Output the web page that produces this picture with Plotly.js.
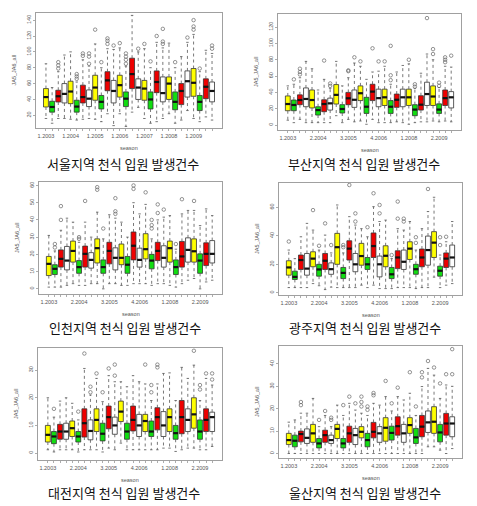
<!DOCTYPE html>
<html><head><meta charset="utf-8">
<script src="https://cdn.plot.ly/plotly-3.0.1.min.js"></script>
<style>html,body{margin:0;padding:0;background:#fff}#chart{width:477px;height:506px}</style>
</head><body><div id="chart"></div>
<script>
// ---------- data ----------
const seasonColors = ['#FFFF00','#11DD11','#EE0000','#FFFFFF'];
const seoulXLabels = ['1.2003','1.2004','1.2005','1.2006','1.2007','1.2008','1.2009'];
const otherXLabels = ['1.2003','2.2004','3.2005','4.2006','1.2008','2.2009'];
const yTitle = 'JA5_JA6_all';
const xTitle = 'season';

// Seoul
const seoulCaption = '서울지역 천식 입원 발생건수';
const seoulQ3 = [53.7,37.7,51.6,60,63,39,58,52,70.5,45,75,64,70.5,49.5,92,66,64,49.5,76,68.4,68.4,49.5,60,76,79,45,66,62];
const seoulQ1 = [30.5,24,36.8,35.6,34.7,24,35.6,31,39,28,51,35.6,43,31,53.7,40,39,28,48.6,37,40,27,33.5,43,44,26,41,37];
const seoulMed = [43,30.5,44,47,50,31,43,41,55,37,64,50.7,58,41,72,55,53.7,40,62,48,60,37,50.7,63,61,37,56,50.7];
const seoulHi = [85,55,75,96,100,62,90,82,110,80,104,103,105,82,146,100,104,80,112,105,111,80,94,112,122,75,102,98];
const seoulLo = [16,10,16,16,15,14,15,16,15,12,22,7,22,6,24,30,16,10,12,16,22,10,14,26,16,12,18,14];
const seoulOutBox = [3,3,3,6,6,6,7,7,8,8,8,9,10,11,11,11,12,13,14,14,14,14,16,17,18,19,20,20,20,22,24,25,25,25,26,28,28];
const seoulOutVal = [79,83,87,66,69,72,95,98,85,94,98,128,87,110,114,117,108,111,85,90,94,98,104,110,88,120,110,113,129,87,118,128,132,140,79,104,108];
const seoulYTicks = [20,40,60,80,100,120,140];

// Busan
const busanCaption = '부산지역 천식 입원 발생건수';
const busanQ3 = [35.7,30.7,37,45.5,43,22.5,31,33,49.6,25,40,43,48,34,50,44,44,30,38,44,44,25,36,52.5,48,26,43,41];
const busanQ1 = [17.6,17.6,25,22.5,21,12.3,16.4,18.4,25.8,14.8,25,21.7,30,14.3,30,22.5,24,14.3,21.7,22.5,24,11.5,18.4,24,24,14.3,24,21];
const busanMed = [25.8,24.6,30.7,32,30.7,18.4,25.8,26.6,37,19.7,32.8,31,39,22.5,41,33,34,22.5,31,34,34,19,25,38,35,19,33,34];
const busanHi = [48,50,58,78,69,43,56,45,78,48,58,76,72,56,65,66,72,50,65,73,75,45,63.5,87,80,46,72,71];
const busanLo = [6,3,7,3,3,3,3,3,11.5,3,7,4,5,1,7,3,3,3,4,3,1,3,4,4,5,4,5,4];
const busanOutBox = [2,3,3,3,7,8,8,11,11,12,13,15,16,17,18,18,18,21,22,22,24,25,25,26,26,27,27,27,28];
const busanOutVal = [56,62,65,69,79,48,51,66,67,83,78,94,78,78,55,61,97,80,47,50,131,87,93,48,52,77,80,83,85];
const busanYTicks = [0,20,40,60,80,100,120];

// Incheon
const incheonCaption = '인천지역 천식 입원 발생건수';
const incheonQ3 = [18.8,14,22.6,24.6,27.7,16.4,24.8,21,29,16.8,27,23.8,26,18.8,33,23.6,32,20,27,25,27.7,16.8,27.5,29.6,29,20.3,26.7,28];
const incheonQ1 = [7.7,8.3,12.6,11,15.5,9,12.6,12,15,9,14.5,11,14,9,16.8,12.6,17.4,11.6,16.4,12.6,15.5,8.3,12.6,15.5,15.5,9,13.5,15];
const incheonMed = [14.5,11.6,17.4,16.4,22,12.6,20.3,16.8,23.6,12.6,22,18,18,14,25,16.8,23,16.4,22,18,23.6,12.6,18.8,22.6,21.8,16.4,20.3,20.3];
const incheonHi = [31,22,34,41,38.7,27,38.7,30,44.5,29,43,41,38.7,30,50,43.5,49,29,40,41.6,42.5,23,43.5,45.5,45.5,36.7,46.4,42.5];
const incheonLo = [1,1,1,2,3,2,2,3,3,0,3,3,2,2,3,3,3,2,3,3,2,1,3,5,6,0,4,5];
const incheonOutBox = [2,2,3,3,6,6,7,9,9,10,12,12,12,15,15,17,18,18,18,19,19,20,22,23,25];
const incheonOutVal = [24,26,40,48,29,30,51,57.5,59,35,43.5,45,52.6,58,60,56,35,37,40,44,49,46,26,52,51];
const incheonYTicks = [0,10,20,30,40,50,60];

// Gwangju
const gwangjuCaption = '광주지역 천식 입원 발생건수';
const gwangjuQ3 = [22.5,15.2,26.5,27.6,28.8,20,27.6,21,41.7,17.8,36.5,27.6,34.7,24.8,42,25.8,33,17.8,29.5,30,35.8,20,30.7,39.8,42.9,18.7,28,33.5];
const gwangjuQ1 = [12.4,9.4,16.4,12.4,18.3,11.7,16.4,13,20,10,23,14.8,19.4,16.4,24.8,11.2,18.3,10,17,16.4,23.4,13,18.3,19.4,24.8,11.7,17.8,18.3];
const gwangjuMed = [17.8,11.2,23,17,24,16.4,22.5,16.6,32,14,31,20,25.8,20,32.8,20,26,13,24.8,21.8,31,16.6,24.8,30,35.2,15.5,24,24.8];
const gwangjuHi = [30,24,39.3,48.7,44,30,40.5,28,61.6,28,53.4,47.5,45,39.3,60.4,50,51,24,45,44,50,30,45,57,67,26.5,35.8,50];
const gwangjuLo = [3.7,3.7,3.7,3.7,6.5,5,2.3,4,3.7,3.7,3.7,3.7,5.4,3.7,5.4,3,3,3,3.7,3.7,3.7,3,3.7,3.7,11,3.7,5.4,6.5];
const gwangjuOutBox = [1,5,6,7,8,10,10,11,12,12,14,15,16,16,18,19,19,20,20,22,22,24,26,26,27];
const gwangjuOutVal = [36,58,33,48.7,33.5,32,33.5,75.6,50,55.7,46,69.8,55.7,61.6,26.5,52,64,50,52,35,39,72.8,33.5,39,39.3];
const gwangjuYTicks = [0,20,40,60];

// Daejeon
const daejeonCaption = '대전지역 천식 입원 발생건수';
const daejeonQ3 = [10,7.8,10.4,10.8,11.6,7.8,16,12,16,10.8,17,13,18.8,10.8,17,14,14,11.6,16.4,15,16,10,19,16,20,12,16,14.8];
const daejeonQ1 = [4,3.4,5,5,6,4,5.8,4.8,7.8,4.4,8.8,6.8,11.4,5,8,6,7.8,6,8.4,6,7.8,5,7,7.8,9,5,7.8,7.8];
const daejeonMed = [6.6,6,7.8,7.8,9,6,10.8,8,12,7,13,10,15,7.8,12,10,11.6,7.8,13,10,13,7.2,13,12,14,7.8,12,13];
const daejeonHi = [20,13,18.8,20,18,12,30.6,21,27,18.6,28,25.8,25.8,24,28,25.8,25,19,25,28.8,29,19,31,27,31.8,19,27,24.6];
const daejeonLo = [1.2,0.4,1.2,1.2,1.2,0.4,1.2,1.2,1.2,0.4,1.8,1.2,3.6,1.2,1.2,1.2,1.2,1.2,1.2,1.8,1.8,0.6,1.2,1.8,1.8,1.2,1.2,2.4];
const daejeonOutBox = [2,6,7,8,8,9,10,11,12,12,17,18,18,19,19,25,26,26,27,28,28];
const daejeonOutVal = [16,15,36,22,24,28.8,22,30.6,28,32,32,22,24.6,31,32,37,23,24.6,28.8,26.6,28.8];
const daejeonYTicks = [0,10,20,30];

// Ulsan
const ulsanCaption = '울산지역 천식 입원 발생건수';
const ulsanQ3 = [9,8.2,10,11,13,6.7,10.4,8.2,13,6.7,12.2,11.2,12,9,13.9,12,16,12.2,16.4,13,16,11.2,17,19,20.9,13,17.9,16.4];
const ulsanQ1 = [4,3,5.2,4.5,5,2.5,5,4.5,6.7,2.5,5,4,7,3,7,5,5.5,6,8.2,5,9,4.5,7.5,9.4,9,5.2,8.2,7.5];
const ulsanMed = [6,5.7,8.7,7,9,4.5,8.2,6,11,4.5,9,8.2,9.7,6,9.7,9,11.5,9.2,12.2,9,12.7,7.2,12,13.9,14.2,9.4,13.4,13.4];
const ulsanHi = [14,15,18,18,24.6,12,17,12,21.6,17,22.4,19.4,18,17,22.4,21.6,25.4,19,25.4,23.9,26.9,17,29.9,38,35,24.6,30.6,30];
const ulsanLo = [0,0,0,0,0,0,0,0,0,0,0,0,0,0,0,0,0,0,0,0,0,0,0,3,3,1.5,0,2.2];
const ulsanOutBox = [3,3,6,7,8,8,10,11,12,13,13,13,14,14,15,15,17,18,19,21,22,23,23,24,25,26,27,28,28];
const ulsanOutVal = [21.6,23,15,19,15,16,21.6,25.4,22.4,21,23,25.4,19.5,21,26,27,32.4,22.4,29.4,36.3,21,34,36.3,41.3,38.4,31.3,35.4,35.4,46.6];
const ulsanYTicks = [0,10,20,30,40];

// ---------- layout config (positions in page pixels) ----------
const W = 477, H = 506;
const panels = [
  {cap:seoulCaption, q1:seoulQ1, med:seoulMed, q3:seoulQ3, lo:seoulLo, hi:seoulHi, ob:seoulOutBox, ov:seoulOutVal, yt:seoulYTicks, xl:seoulXLabels, step:4, yr:[4,149], px:[36,222], py:[13,128], capY:163},
  {cap:busanCaption, q1:busanQ1, med:busanMed, q3:busanQ3, lo:busanLo, hi:busanHi, ob:busanOutBox, ov:busanOutVal, yt:busanYTicks, xl:otherXLabels, step:5, yr:[-6,136], px:[278,461], py:[14,130], capY:163},
  {cap:incheonCaption, q1:incheonQ1, med:incheonMed, q3:incheonQ3, lo:incheonLo, hi:incheonHi, ob:incheonOutBox, ov:incheonOutVal, yt:incheonYTicks, xl:otherXLabels, step:5, yr:[-3,62], px:[39,222], py:[182,294], capY:327},
  {cap:gwangjuCaption, q1:gwangjuQ1, med:gwangjuMed, q3:gwangjuQ3, lo:gwangjuLo, hi:gwangjuHi, ob:gwangjuOutBox, ov:gwangjuOutVal, yt:gwangjuYTicks, xl:otherXLabels, step:5, yr:[-1.5,77], px:[279,462], py:[183,295], capY:327},
  {cap:daejeonCaption, q1:daejeonQ1, med:daejeonMed, q3:daejeonQ3, lo:daejeonLo, hi:daejeonHi, ob:daejeonOutBox, ov:daejeonOutVal, yt:daejeonYTicks, xl:otherXLabels, step:5, yr:[-2.5,38], px:[38,222], py:[348,460], capY:492},
  {cap:ulsanCaption, q1:ulsanQ1, med:ulsanMed, q3:ulsanQ3, lo:ulsanLo, hi:ulsanHi, ob:ulsanOutBox, ov:ulsanOutVal, yt:ulsanYTicks, xl:otherXLabels, step:5, yr:[-2,48], px:[279,462], py:[346,458], capY:492}
];

const fx = p => p / W;
const fy = p => 1 - p / H;
const traces = [];
const layout = {
  width: W, height: H, margin:{l:0,r:0,t:0,b:0},
  paper_bgcolor:'#fff', plot_bgcolor:'#fff', showlegend:false,
  boxmode:'overlay', annotations:[]
};
const tickFont = {family:'Liberation Sans, Arial, sans-serif', size:5.5, color:'#555'};

panels.forEach((p, k) => {
  const n = p.q1.length;
  const xs = p.q1.map((_, i) => i + 1);
  const sfx = k === 0 ? '' : String(k + 1);
  const xa = 'x' + sfx, ya = 'y' + sfx;

  // whiskers (dotted), staples, medians
  const wx = [], wy = [], sx = [], sy = [], mx = [], my = [];
  xs.forEach((x, i) => {
    wx.push(x, x, null, x, x, null);
    wy.push(p.q3[i], p.hi[i], null, p.q1[i], p.lo[i], null);
    sx.push(x - 0.2, x + 0.2, null, x - 0.2, x + 0.2, null);
    sy.push(p.hi[i], p.hi[i], null, p.lo[i], p.lo[i], null);
    mx.push(x - 0.4, x + 0.4, null);
    my.push(p.med[i], p.med[i], null);
  });
  traces.push({type:'scatter', mode:'lines', x:wx, y:wy, xaxis:xa, yaxis:ya,
    line:{color:'#555', width:0.8, dash:'dot'}, hoverinfo:'skip'});
  traces.push({type:'scatter', mode:'lines', x:sx, y:sy, xaxis:xa, yaxis:ya,
    line:{color:'#555', width:0.8}, hoverinfo:'skip'});

  // boxes, one trace per season colour
  seasonColors.forEach((col, c) => {
    const idx = xs.map((_, i) => i).filter(i => i % 4 === c);
    traces.push({type:'box', xaxis:xa, yaxis:ya,
      x: idx.map(i => xs[i]),
      q1: idx.map(i => p.q1[i]), median: idx.map(i => p.med[i]), q3: idx.map(i => p.q3[i]),
      lowerfence: idx.map(i => p.q1[i]), upperfence: idx.map(i => p.q3[i]),
      width:0.8, whiskerwidth:0, boxpoints:false, fillcolor:col,
      line:{color:'#333', width:0.8}, hoverinfo:'skip'});
  });

  traces.push({type:'scatter', mode:'lines', x:mx, y:my, xaxis:xa, yaxis:ya,
    line:{color:'#111', width:2.2}, hoverinfo:'skip'});

  // outliers
  traces.push({type:'scatter', mode:'markers', xaxis:xa, yaxis:ya,
    x: p.ob.map(b => xs[b - 1]), y: p.ov,
    marker:{symbol:'circle-open', size:3.5, color:'#666', line:{width:0.7}}, hoverinfo:'skip'});

  const ticktext = xs.map((_, i) => (i % p.step === 0 ? (p.xl[i / p.step] || '') : ''));
  layout['xaxis' + sfx] = {domain:[fx(p.px[0]), fx(p.px[1])], anchor:ya, range:[-0.62, n + 1.62],
    tickmode:'array', tickvals:xs, ticktext:ticktext, ticks:'outside', ticklen:2.5, tickwidth:0.6,
    tickcolor:'#777', tickfont:tickFont, showline:true, mirror:true, linecolor:'#888', linewidth:0.8,
    showgrid:false, zeroline:false, fixedrange:true};
  layout['yaxis' + sfx] = {domain:[fy(p.py[1]), fy(p.py[0])], anchor:xa, range:p.yr,
    tickmode:'array', tickvals:p.yt, ticktext:p.yt.map(String), tickangle:-90, ticks:'outside', ticklen:2.5,
    tickwidth:0.6, tickcolor:'#777', tickfont:tickFont, showline:true, mirror:true, linecolor:'#888',
    linewidth:0.8, showgrid:false, zeroline:false, fixedrange:true};

  const cx = (p.px[0] + p.px[1]) / 2;
  const cy = (p.py[0] + p.py[1]) / 2;
  layout.annotations.push({xref:'paper', yref:'paper', x:fx(cx), y:fy(p.py[1] + 20), text:xTitle,
    showarrow:false, xanchor:'center', yanchor:'middle', font:{family:'Liberation Sans, Arial, sans-serif', size:5.5, color:'#555'}});
  layout.annotations.push({xref:'paper', yref:'paper', x:fx(p.px[0] - 22), y:fy(cy), text:yTitle, textangle:-90,
    showarrow:false, xanchor:'center', yanchor:'middle', font:{family:'Liberation Sans, Arial, sans-serif', size:5.5, color:'#555'}});
  layout.annotations.push({xref:'paper', yref:'paper', x:fx(cx - 6), y:fy(p.capY), text:p.cap,
    showarrow:false, xanchor:'center', yanchor:'middle', font:{family:'Noto Sans CJK KR, sans-serif', size:13, color:'#111'}});
});

Plotly.newPlot('chart', traces, layout, {staticPlot:true, displayModeBar:false});
</script></body></html>
